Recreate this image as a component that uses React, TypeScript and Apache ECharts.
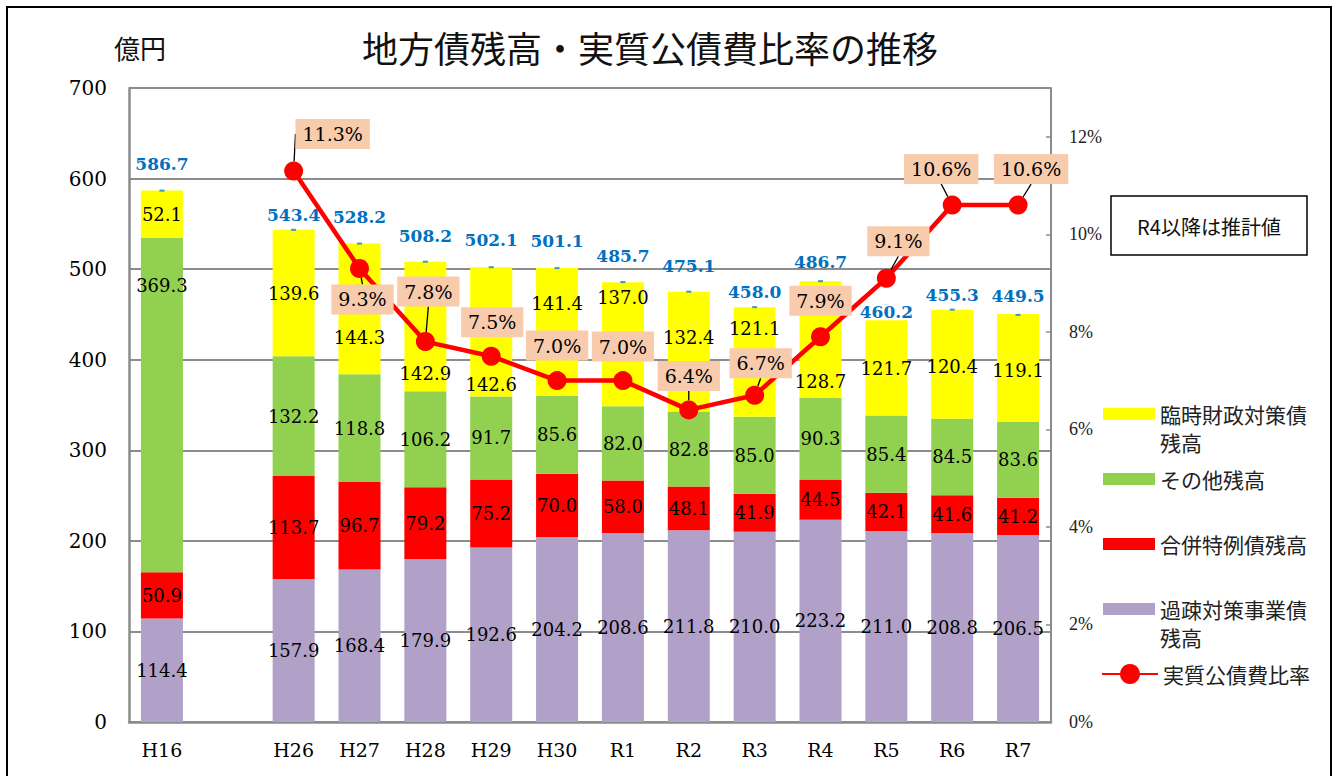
import React, { useEffect, useRef } from 'react';
import * as echarts from 'echarts';

const categories = ['H16', '', 'H26', 'H27', 'H28', 'H29', 'H30', 'R1', 'R2', 'R3', 'R4', 'R5', 'R6', 'R7'];
const kasoValues = [114.4, null, 157.9, 168.4, 179.9, 192.6, 204.2, 208.6, 211.8, 210.0, 223.2, 211.0, 208.8, 206.5];
const gappeiValues = [50.9, null, 113.7, 96.7, 79.2, 75.2, 70.0, 58.0, 48.1, 41.9, 44.5, 42.1, 41.6, 41.2];
const sonotaValues = [369.3, null, 132.2, 118.8, 106.2, 91.7, 85.6, 82.0, 82.8, 85.0, 90.3, 85.4, 84.5, 83.6];
const rinzaiValues = [52.1, null, 139.6, 144.3, 142.9, 142.6, 141.4, 137.0, 132.4, 121.1, 128.7, 121.7, 120.4, 119.1];
const totalValues = [586.7, null, 543.4, 528.2, 508.2, 502.1, 501.1, 485.7, 475.1, 458.0, 486.7, 460.2, 455.3, 449.5];
const ratioValues = [null, null, 11.3, 9.3, 7.8, 7.5, 7.0, 7.0, 6.4, 6.7, 7.9, 9.1, 10.6, 10.6];
const leftTicks = { min: 0, max: 700, interval: 100 };
const rightTicks = { min: 0, max: 13, interval: 2 };

// label layout tweaks (not data)
const rinzaiLabelDy = [0, 0, 0, 29, 47, 53, -29, -47, -14, -34, 42, 8, 2, 2];
const sonotaLabelDy = [-120, 0, 0, 0, 0, 0, 0, 0, 0, 0, 0, 0, 0, 0];
const totalLabelDy = [-12, 0, 0, -12, -11, -12, -12, -11, -11, 0, -4, 21, 0, -4];
const ratioLabelOffset: (number[] | null)[] = [null, null, [39, -37], [3, 31], [3, -50], [1, -34], [0, -35], [0, -34], [0, -34], [6, -32], [0, -36], [12, -37], [-11, -36], [13, -36]];
const ratioLeader = [false, false, true, true, true, false, false, false, true, true, false, true, true, true];

const NAME_RINZAI = '臨時財政対策債残高';
const NAME_SONOTA = 'その他残高';
const NAME_GAPPEI = '合併特例債残高';
const NAME_KASO = '過疎対策事業債残高';
const NAME_RATIO = '実質公債費比率';

const SERIF = "'DejaVu Serif', serif";
const CJK = "'Noto Sans CJK JP', sans-serif";

const barLabel = {
  show: true,
  position: 'inside',
  color: '#000',
  fontFamily: SERIF,
  fontSize: 18,
  formatter: (p: any) => (typeof p.value === 'number' ? p.value.toFixed(1) : ''),
};

const legendBase = {
  orient: 'vertical',
  padding: 0,
  itemWidth: 52,
  itemHeight: 12,
  icon: 'rect',
  textStyle: { fontFamily: CJK, fontSize: 21, lineHeight: 28, color: '#222' },
  formatter: (name: string) =>
    name === NAME_RINZAI ? '\n臨時財政対策債\n残高' : name === NAME_KASO ? '\n過疎対策事業債\n残高' : name,
};

export default function App() {
  const ref = useRef<HTMLDivElement>(null);
  useEffect(() => {
    const chart = echarts.init(ref.current!, null, { renderer: 'svg' });
    const option: any = {
      animation: false,
      backgroundColor: '#fff',
      grid: { left: 129, right: 290, top: 88, bottom: 54, containLabel: false },
      legend: [
        { ...legendBase, left: 1103, top: 372, data: [NAME_RINZAI] },
        { ...legendBase, left: 1103, top: 465, data: [NAME_SONOTA] },
        { ...legendBase, left: 1103, top: 530, data: [NAME_GAPPEI] },
        { ...legendBase, left: 1103, top: 567, data: [NAME_KASO] },
        { ...legendBase, left: 1101, top: 660, itemWidth: 56, itemHeight: 25, icon: undefined, data: [NAME_RATIO] },
      ],
      xAxis: {
        type: 'category',
        data: categories,
        axisLine: { lineStyle: { color: '#8c8c8c', width: 2.5 } },
        axisTick: { show: false },
        axisLabel: { color: '#000', fontFamily: SERIF, fontSize: 19, margin: 18, interval: 0 },
      },
      yAxis: [
        {
          type: 'value',
          ...leftTicks,
          axisLine: { show: true, lineStyle: { color: '#8c8c8c', width: 2.5 } },
          axisTick: { show: false },
          splitLine: { lineStyle: { color: '#8c8c8c', width: 2 } },
          axisLabel: { color: '#000', fontFamily: SERIF, fontSize: 20, margin: 22 },
        },
        {
          type: 'value',
          ...rightTicks,
          position: 'right',
          axisLine: { show: true, lineStyle: { color: '#8c8c8c', width: 2 } },
          axisTick: { show: true, inside: true, length: 5, lineStyle: { color: '#8c8c8c', width: 1.5 } },
          splitLine: { show: false },
          axisLabel: {
            color: '#222',
            fontFamily: "'Liberation Serif', serif",
            fontSize: 18,
            margin: 18,
            formatter: (v: number) => (v % 2 === 0 ? v + '%' : ''),
          },
        },
      ],
      series: [
        {
          name: NAME_KASO,
          type: 'bar',
          stack: 'debt',
          barWidth: 42,
          itemStyle: { color: '#B1A0C7' },
          label: barLabel,
          data: kasoValues.map((v) => (v == null ? '-' : v)),
          z: 2,
        },
        {
          name: NAME_GAPPEI,
          type: 'bar',
          stack: 'debt',
          barWidth: 42,
          itemStyle: { color: '#FF0000' },
          label: barLabel,
          data: gappeiValues.map((v) => (v == null ? '-' : v)),
          z: 2,
        },
        {
          name: NAME_SONOTA,
          type: 'bar',
          stack: 'debt',
          barWidth: 42,
          itemStyle: { color: '#92D050' },
          label: barLabel,
          data: sonotaValues.map((v, i) => (v == null ? '-' : { value: v, label: { offset: [0, sonotaLabelDy[i]] } })),
          z: 2,
        },
        {
          name: NAME_RINZAI,
          type: 'bar',
          stack: 'debt',
          barWidth: 42,
          itemStyle: { color: '#FFFF00' },
          label: barLabel,
          data: rinzaiValues.map((v, i) => (v == null ? '-' : { value: v, label: { offset: [0, rinzaiLabelDy[i]] } })),
          z: 2,
        },
        {
          name: '合計',
          type: 'line',
          yAxisIndex: 0,
          lineStyle: { width: 0, opacity: 0 },
          symbol: 'rect',
          symbolSize: [5, 2],
          itemStyle: { color: '#3399CC' },
          label: {
            show: true,
            position: 'top',
            distance: 5,
            color: '#0070C0',
            fontFamily: SERIF,
            fontWeight: 'bold',
            fontSize: 17,
            lineHeight: 18,
            formatter: (p: any) => Number(p.value).toFixed(1),
          },
          data: totalValues.map((v, i) =>
            v == null
              ? '-'
              : {
                  value: v,
                  label:
                    i === 11
                      ? { offset: [0, totalLabelDy[i]], backgroundColor: '#fff', lineHeight: 16, padding: [0, 1] }
                      : { offset: [0, totalLabelDy[i]] },
                }
          ),
          z: 4,
          tooltip: { show: false },
        },
        {
          name: NAME_RATIO,
          type: 'line',
          yAxisIndex: 1,
          symbol: 'circle',
          symbolSize: 19,
          lineStyle: { color: '#FF0000', width: 4.5 },
          itemStyle: { color: '#FF0000' },
          label: {
            show: true,
            position: 'inside',
            color: '#000',
            fontFamily: SERIF,
            fontSize: 19,
            backgroundColor: '#F8CBAD',
            padding: [6, 7, 5, 7],
            formatter: (p: any) => Number(p.value).toFixed(1) + '%',
          },
          labelLine: { show: true, lineStyle: { color: '#000', width: 1.3 } },
          labelLayout: (params: any) => {
            const o = ratioLabelOffset[params.dataIndex];
            return o ? { dx: o[0], dy: o[1] } : {};
          },
          data: ratioValues.map((v, i) =>
            v == null ? '-' : { value: v, labelLine: { show: ratioLeader[i], lineStyle: { color: '#000', width: 1.3 } } }
          ),
          z: 6,
        },
      ],
      graphic: [
        {
          type: 'rect',
          shape: { x: 7, y: 7, width: 1324, height: 800 },
          style: { fill: 'none', stroke: '#000', lineWidth: 2 },
          silent: true,
        },
        {
          type: 'text',
          x: 650,
          y: 47,
          style: {
            text: '地方債残高・実質公債費比率の推移',
            fontFamily: CJK,
            fontSize: 36,
            fill: '#111',
            align: 'center',
            verticalAlign: 'middle',
            textAlign: 'center',
            textVerticalAlign: 'middle',
          },
        },
        {
          type: 'text',
          x: 140,
          y: 47,
          style: {
            text: '億円',
            fontFamily: CJK,
            fontSize: 26,
            fill: '#111',
            align: 'center',
            verticalAlign: 'middle',
            textAlign: 'center',
            textVerticalAlign: 'middle',
          },
        },
        {
          type: 'rect',
          shape: { x: 1111, y: 196, width: 196, height: 59 },
          style: { fill: '#fff', stroke: '#000', lineWidth: 1.5 },
        },
        {
          type: 'text',
          x: 1209,
          y: 226,
          style: {
            text: 'R4以降は推計値',
            fontFamily: CJK,
            fontSize: 20,
            fill: '#111',
            align: 'center',
            verticalAlign: 'middle',
            textAlign: 'center',
            textVerticalAlign: 'middle',
          },
        },
      ],
    };
    chart.setOption(option);
    return () => chart.dispose();
  }, []);
  return <div ref={ref} style={{ position: 'absolute', left: 0, top: 0, width: 1341, height: 776 }} />;
}
